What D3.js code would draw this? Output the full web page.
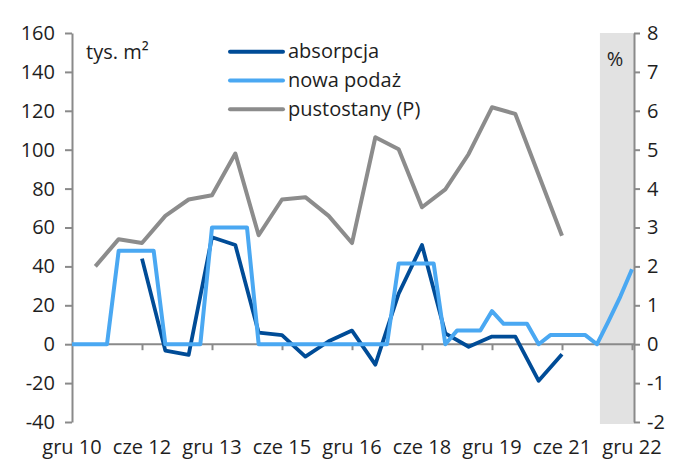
<!DOCTYPE html>
<html><head><meta charset="utf-8">
<script src="https://cdn.jsdelivr.net/npm/d3@7"></script>
<style>
html,body{margin:0;padding:0;background:#fff;}
svg{display:block;font-family:"Open Sans",sans-serif;}
</style></head>
<body><svg id="c" width="675" height="459"></svg>
<script>
const categories = [
 "gru 10","mar 11","cze 11","wrz 11","gru 11","mar 12","cze 12","wrz 12","gru 12",
 "mar 13","cze 13","wrz 13","gru 13","mar 14","cze 14","wrz 14","gru 14",
 "mar 15","cze 15","wrz 15","gru 15","mar 16","cze 16","wrz 16","gru 16",
 "mar 17","cze 17","wrz 17","gru 17","mar 18","cze 18","wrz 18","gru 18",
 "mar 19","cze 19","wrz 19","gru 19","mar 20","cze 20","wrz 20","gru 20",
 "mar 21","cze 21","wrz 21","gru 21","mar 22","cze 22","wrz 22","gru 22"];
const absorpcja = [null,null,null,null,null,null,44,null,-3.3,null,-5.5,null,55,null,51,null,6,null,4.7,null,-6.4,null,1.5,null,7,null,-10.5,null,26,null,51,null,5.6,null,-1.3,null,3.9,null,3.9,null,-18.8,null,-5.2,null,null,null,null,null,null];
const nowaPodaz = [0,0,0,0,48,48,48,48,0,0,0,0,60,60,60,60,0,0,0,0,0,0,0,0,0,0,0,0,41.5,41.5,41.5,41.5,0,7,7,7,17,10.5,10.5,10.5,0,4.7,4.7,4.7,4.7,0,12,24.5,38.5];
const pustostany = [null,null,2.0,null,2.7,null,2.6,null,3.3,null,3.72,null,3.83,null,4.9,null,2.8,null,3.72,null,3.78,null,3.3,null,2.6,null,5.32,null,5.01,null,3.52,null,3.98,null,4.89,null,6.09,null,5.92,null,null,null,2.79,null,null,null,null,null,null];
const leftTicks = [-40,-20,0,20,40,60,80,100,120,140,160];
const rightTicks = [-2,-1,0,1,2,3,4,5,6,7,8];
const labelIdx = [0,6,12,18,24,30,36,42,48];
const seriesNames = ["absorpcja","nowa podaż","pustostany (P)"];
const forecastStart = 45.25; // shaded forecast region start (category index)

const svg = d3.select("#c");
const x = d3.scaleLinear().domain([0, categories.length-1]).range([72, 632]);
const yL = d3.scaleLinear().domain([-40,160]).range([422,33]);
const yR = d3.scaleLinear().domain([-2,8]).range([422,33]);
const axisX = 634;
const AX = "#8a8a8a", TXT = "#1e1e1e";
const C_ABS = "#004c97", C_NEW = "#4aa8f2", C_PUS = "#8c8c8c";
const fmt = d => String(d); // plain hyphen-minus like the original

// forecast band
svg.append("rect").attr("x", x(forecastStart)).attr("y", yR(8))
  .attr("width", axisX - x(forecastStart)).attr("height", yR(-2) + 2 - yR(8))
  .attr("fill", "#e2e2e2");

// left axis
const gl = svg.append("g").attr("transform","translate(72,0)")
  .call(d3.axisLeft(yL).tickValues(leftTicks).tickSize(7).tickSizeOuter(0).tickPadding(10).tickFormat(fmt));
// right axis
const gr = svg.append("g").attr("transform",`translate(${axisX},0)`)
  .call(d3.axisRight(yR).tickValues(rightTicks).tickSize(6).tickSizeOuter(0).tickPadding(7).tickFormat(fmt));
// x axis at zero
const gx = svg.append("g").attr("transform",`translate(0,${yL(0)})`)
  .call(d3.axisBottom(x).tickValues(labelIdx.slice(1)).tickSize(6).tickSizeOuter(0).tickFormat(""));
gx.select(".domain").attr("d", `M${x(0)},0H${axisX}`);
[gl,gr,gx].forEach(g=>{
  g.selectAll("path,line").attr("stroke",AX).attr("stroke-width",2);
  g.selectAll("text").attr("fill",TXT).style("font-size","20px").style("font-family","'Open Sans',sans-serif");
});

// category labels at bottom
svg.append("g").selectAll("text").data(labelIdx).join("text")
  .attr("x", d=>x(d)).attr("y", 453.5).attr("text-anchor","middle")
  .attr("fill",TXT).style("font-size","20px").text(d=>categories[d]);

function drawLine(vals, y, color, w){
  const pts = vals.map((v,i)=>[i,v]).filter(d=>d[1]!==null);
  svg.append("path").datum(pts)
    .attr("d", d3.line().x(d=>x(d[0])).y(d=>y(d[1])))
    .attr("fill","none").attr("stroke",color).attr("stroke-width",w)
    .attr("stroke-linejoin","round").attr("stroke-linecap","butt");
}
drawLine(pustostany, yR, C_PUS, 4);
drawLine(absorpcja, yL, C_ABS, 3.8);
drawLine(nowaPodaz, yL, C_NEW, 4);

// legend
const lg = svg.append("g");
[C_ABS, C_NEW, C_PUS].forEach((c,i)=>{
  const yy = 51.7 + i*28.8;
  lg.append("line").attr("x1",230).attr("x2",283).attr("y1",yy).attr("y2",yy)
    .attr("stroke",c).attr("stroke-width",4).attr("stroke-linecap","round");
  lg.append("text").attr("x",288).attr("y",yy+6.5).attr("fill",TXT)
    .style("font-size","20px").text(seriesNames[i]);
});

// unit labels
svg.append("text").attr("x",86).attr("y",59).attr("fill",TXT).style("font-size","20px").text("tys. m²");
svg.append("text").attr("x",615).attr("y",66).attr("text-anchor","middle").attr("fill",TXT).style("font-size","20px").text("%");
</script></body></html>
